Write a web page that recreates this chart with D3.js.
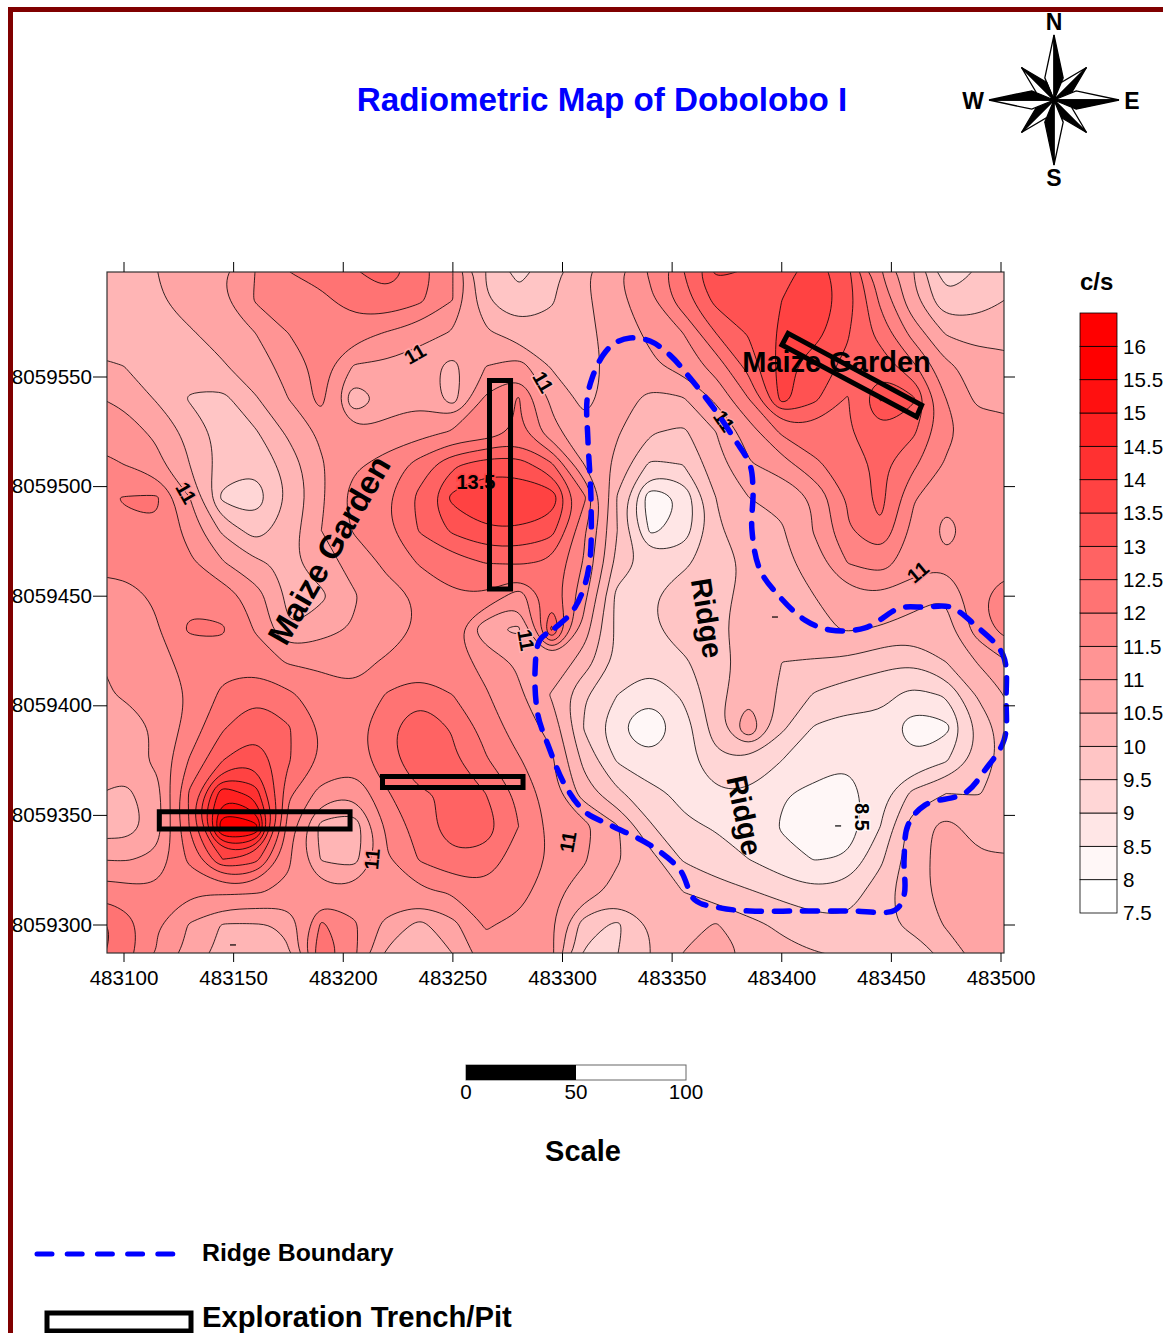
<!DOCTYPE html>
<html>
<head>
<meta charset="utf-8">
<title>Radiometric Map of Dobolobo I</title>
<script src="https://cdn.jsdelivr.net/npm/d3@7"></script>
<style>
	html, body { margin: 0; padding: 0; background: #fff; }
	svg { display: block; }
	text { font-family: "Liberation Sans", Arial, sans-serif; fill: #000; }
	.bold { font-weight: bold; }
</style>
</head>
<body>
<div id="chart"></div>
<script>
// grid of c/s readings, 15 m apart, north to south, west to east
var gridEast0 = 483085, gridNorth0 = 8059600, gridStep = 15;
var counts = [
	[10.1,10.1,10.5,10.7,10.95,11.5,12.05,12.2,12.5,12.8,12.3,11.5,10.0,9.3,9.8,10.45,10.95,11.6,12.5,13.7,13.5,13.2,13.8,13.1,11.5,10.5,9.2,9.5,9.8],
	[10.2,10.2,10.45,10.7,10.95,11.55,11.7,11.9,12.2,12.4,12.1,11.5,10.0,9.6,9.95,10.4,10.85,11.4,12.3,13.15,13.3,13.5,13.8,13.3,11.9,10.6,9.55,9.8,10.05],
	[10.1,10.1,10.2,10.45,10.7,11.0,11.5,11.8,11.75,11.45,11.2,10.95,10.6,10.2,10.15,10.35,10.75,11.1,11.5,12.5,13.05,13.6,13.7,13.05,12.3,11.3,10.45,10.25,10.3],
	[10.7,10.5,10.3,10.2,10.45,10.8,11.15,11.7,10.95,10.9,10.7,10.35,11.0,11.25,10.45,10.3,10.7,10.9,11.2,11.7,12.7,13.7,13.2,12.9,12.8,12.1,11.1,10.8,10.7],
	[11.05,10.9,10.45,9.95,9.85,10.45,11.0,11.7,10.05,10.7,10.9,10.25,11.6,12.05,10.9,10.35,10.75,10.35,10.45,11.1,12.0,13.7,13.1,12.45,13.55,13.1,11.5,10.85,10.85],
	[11.3,11.2,10.9,10.35,9.8,9.95,10.6,11.1,11.05,11.2,11.3,11.55,11.6,12.1,11.15,10.65,10.55,10.05,9.9,10.5,11.25,12.1,12.3,12.45,12.95,12.6,11.6,11.3,11.2],
	[11.75,11.5,11.15,10.5,9.8,9.6,10.2,10.95,11.4,11.7,12.2,12.9,13.3,13.25,12.6,11.0,10.35,9.4,9.5,10.3,10.95,11.25,11.9,12.25,12.6,12.1,11.45,11.2,11.15],
	[11.9,12.02,12.08,11.0,9.35,9.2,10.05,10.9,11.75,11.95,12.65,13.65,13.9,13.9,13.85,12.1,9.95,8.1,8.55,10.0,10.5,10.6,11.05,12.05,12.7,11.55,11.1,11.15,11.15],
	[11.8,11.95,11.95,11.3,10.4,9.75,10.25,11.0,11.55,11.9,12.55,13.1,13.45,13.45,13.2,11.55,10.0,8.4,8.65,9.9,10.4,10.45,11.05,11.95,12.45,11.35,10.85,11.2,11.2],
	[11.75,11.7,11.65,11.6,11.05,10.6,10.4,10.75,11.2,11.6,12.05,12.25,12.5,12.55,12.4,11.45,9.85,9.3,9.4,9.75,10.1,10.35,10.75,11.5,11.75,11.2,11.08,11.15,11.4],
	[11.15,11.25,11.6,11.85,11.8,11.25,10.4,10.4,10.95,11.35,11.55,11.95,11.95,11.2,12.3,11.15,9.3,9.45,9.8,9.95,10.05,10.2,10.5,10.8,10.95,10.7,10.5,11.45,11.8],
	[11.2,11.15,11.45,12.1,12.05,11.45,10.5,10.8,11.05,11.3,11.55,11.65,10.6,10.4,13.1,10.75,9.35,9.4,9.8,9.95,10.1,10.25,10.4,10.55,10.45,10.3,10.35,11.3,11.8],
	[10.95,11.1,11.4,11.6,11.85,11.75,11.45,11.4,11.4,11.55,11.65,11.7,11.35,10.9,10.95,10.25,9.4,9.15,9.4,9.85,10.15,10.0,9.95,9.9,9.65,9.55,10.0,10.55,11.05],
	[10.9,11.05,11.15,11.55,12.1,12.45,12.1,11.75,11.55,12.05,12.4,12.0,11.55,11.1,10.45,9.55,9.0,8.55,9.1,9.8,10.4,9.9,9.45,9.2,9.15,8.85,9.05,10.1,10.6],
	[10.75,10.7,11.05,11.7,12.45,12.85,12.55,11.95,11.8,12.4,12.85,12.45,11.8,11.25,10.85,9.45,8.5,8.15,8.65,9.8,11.0,9.6,8.95,8.85,8.85,8.15,8.35,9.6,10.45],
	[10.85,10.8,11.1,12.05,13.0,13.4,12.55,11.95,11.75,12.3,12.9,12.6,12.05,11.55,11.1,9.85,8.95,8.55,8.75,9.4,9.45,9.0,8.8,8.55,8.8,8.6,8.95,9.7,10.3],
	[10.55,10.35,10.8,12.6,14.9,14.25,12.1,11.3,11.05,11.95,12.45,12.55,12.5,11.9,11.2,10.25,9.6,9.2,8.85,8.95,8.95,8.55,8.35,8.3,8.8,9.65,10.0,9.98,10.2],
	[10.3,10.15,10.75,12.55,15.9,15.7,11.75,10.3,10.15,11.6,12.25,12.8,12.8,12.0,11.35,11.15,10.55,9.55,9.1,8.95,8.9,8.45,8.1,8.2,9.0,10.3,10.65,10.3,10.3],
	[11.0,10.95,11.1,12.15,13.5,13.2,11.6,10.45,10.3,11.45,12.05,12.4,12.3,11.75,11.45,11.05,10.55,10.2,9.45,9.25,9.0,8.65,8.48,8.55,9.4,10.3,10.7,10.55,10.55],
	[11.85,11.7,11.6,11.55,11.6,11.55,11.4,11.2,11.15,11.5,11.4,11.55,11.85,11.75,11.1,10.8,10.3,10.2,10.0,9.7,9.55,9.35,9.1,9.25,9.75,10.4,10.6,10.7,10.7],
	[12.85,12.3,11.55,10.95,10.45,10.45,10.55,12.1,11.6,10.8,10.35,10.85,11.55,11.35,11.05,9.7,9.4,10.0,10.3,10.55,10.15,9.9,9.75,9.6,9.85,10.15,10.55,10.75,10.8],
	[12.7,12.25,11.45,10.8,10.3,10.1,10.45,12.5,11.6,10.35,9.95,10.45,11.3,11.35,11.15,9.4,9.5,10.0,10.55,10.75,10.45,10.2,10.05,10.0,9.85,9.6,10.1,10.7,10.8]
];

var levels = [7.5,8,8.5,9,9.5,10,10.5,11,11.5,12,12.5,13,13.5,14,14.5,15,15.5,16];
var eastTicks = [483100,483150,483200,483250,483300,483350,483400,483450,483500];
var northTicks = [8059300,8059350,8059400,8059450,8059500,8059550];
var scaleTicks = [0,50,100];

// east, north pairs
var ridgeEast = [483289.7,483296.6,483304.3,483309.4,483312.5,483313,483311.6,483311.2,483313.5,483318.5,483323.9,483330.8,483339.9,483349,483358.2,483369.6,483378.7,483385.5,483386.9,483386.4,483390.1,483399.2,483410.6,483422,483438,483453.9,483465.3,483476.7,483488.1,483500.9,483502.3,483501.4,483492.7,483483.6,483465.3,483457.6,483455.8,483455.8,483451.7,483431.1,483408.3,483385.5,483371.8,483360.4,483353.6,483339.9,483321.7,483310.3,483301.1,483293.4,483288.8,483287.5];
var ridgeNorth = [8059430,8059435.5,8059442.8,8059452.8,8059466.5,8059493.9,8059521.3,8059539.5,8059549.5,8059560,8059565.5,8059567.8,8059566.4,8059560,8059549.5,8059534.9,8059521.3,8059509.9,8059498.4,8059480.2,8059462,8059449.6,8059439.1,8059434.6,8059435.5,8059444.6,8059445,8059445.1,8059436.9,8059423.2,8059402.6,8059384.4,8059370.7,8059360.2,8059354.7,8059345.6,8059329.7,8059313.7,8059306.8,8059306.4,8059306.4,8059306.4,8059307.8,8059311.4,8059325.1,8059336.5,8059345.6,8059351.6,8059363.9,8059382.1,8059395.8,8059416.3];

var trenches = [
	[[483266.7,8059548.4],[483276.3,8059548.4],[483276.3,8059453.3],[483266.7,8059453.3]],
	[[483217.9,8059367.7],[483282.0,8059367.7],[483282.0,8059362.7],[483217.9,8059362.7]],
	[[483116.1,8059351.7],[483203.1,8059351.7],[483203.1,8059343.8],[483116.1,8059343.8]],
	[[483402.9,8059569.9],[483463.8,8059537.2],[483461.5,8059531.9],[483400.1,8059564.6]]
];

var contourLabels = [
	['11',483232.7,8059560.5,-30],
	['11',483291.1,8059547.7,60],
	['11',483373.7,8059529.9,55],
	['11',483128.3,8059497.1,60],
	['11',483283.4,8059430.0,80],
	['11',483213.1,8059330.1,-85],
	['11',483302.5,8059337.9,-80],
	['11',483462.1,8059461.0,-40],
	['13.5',483260.5,8059502.1,0],
	['8.5',483436.6,8059349.3,90]
];

var spotEast = [483396.9,483425.7,483149.7];
var spotNorth = [8059440.5,8059345.2,8059290.9];

var placeLabels = [
	['Maize Garden',483193.5,8059471,-60,32.5],
	['Maize Garden',483425,8059557,0,29],
	['Ridge',483366,8059440,81,29],
	['Ridge',483383,8059350,78,29]
];

var width = 1163,
	height = 1333,
	plot = { left: 107, right: 1004, top: 272, bottom: 953 };

var xScale = d3.scaleLinear().domain([483100, 483500]).range([124, 1001]);
var yScale = d3.scaleLinear().domain([8059300, 8059550]).range([925, 377]);

// every band's colour comes from its lower level
var color = d3.scaleLinear().domain([7.75, 15.5]).range(['#ffffff', '#ff0000']).clamp(true);

var svg = d3.select('#chart').append('svg')
	.attr('width', width)
	.attr('height', height);

// page frame
svg.append('rect').attr('x', 8).attr('y', 7).attr('width', width - 8).attr('height', 5).attr('fill', '#800000');
svg.append('rect').attr('x', 8).attr('y', 7).attr('width', 5).attr('height', height - 7).attr('fill', '#800000');

svg.append('text')
	.attr('class', 'bold')
	.attr('x', 602)
	.attr('y', 111)
	.attr('text-anchor', 'middle')
	.attr('font-size', 33.2)
	.style('fill', '#0000ff')
	.text('Radiometric Map of Dobolobo I');

// contours
var nCols = counts[0].length, nRows = counts.length;
var gridX = d3.scaleLinear()
	.domain([0.5, nCols - 0.5])
	.range([xScale(gridEast0), xScale(gridEast0 + gridStep * (nCols - 1))]);
var gridY = d3.scaleLinear()
	.domain([0.5, nRows - 0.5])
	.range([yScale(gridNorth0), yScale(gridNorth0 - gridStep * (nRows - 1))]);

var bands = d3.contours()
	.size([nCols, nRows])
	.thresholds(levels)(d3.merge(counts));

var ringLine = d3.line()
	.x(function(d) { return gridX(d[0]); })
	.y(function(d) { return gridY(d[1]); })
	.curve(d3.curveBasisClosed);

var bandPath = function(band) {
	var out = '';
	band.coordinates.forEach(function(polygon) {
		polygon.forEach(function(ring) {
			out += ringLine(ring.slice(0, -1));
		});
	});
	return out;
};

svg.append('clipPath').attr('id', 'plot-clip')
	.append('rect')
	.attr('x', plot.left)
	.attr('y', plot.top)
	.attr('width', plot.right - plot.left)
	.attr('height', plot.bottom - plot.top);

var mapLayer = svg.append('g').attr('clip-path', 'url(#plot-clip)');

mapLayer.append('rect')
	.attr('x', plot.left)
	.attr('y', plot.top)
	.attr('width', plot.right - plot.left)
	.attr('height', plot.bottom - plot.top)
	.attr('fill', '#fff');

mapLayer.selectAll('path.band')
	.data(bands)
	.enter().append('path')
	.attr('class', 'band')
	.attr('d', bandPath)
	.attr('fill', function(d) { return color(d.value); })
	.attr('fill-rule', 'evenodd')
	.attr('stroke', '#000')
	.attr('stroke-width', 0.8);

// small spot marks left by the gridding
mapLayer.selectAll('line.spot')
	.data(d3.zip(spotEast, spotNorth))
	.enter().append('line')
	.attr('class', 'spot')
	.attr('x1', function(d) { return xScale(d[0]) - 3; })
	.attr('x2', function(d) { return xScale(d[0]) + 3; })
	.attr('y1', function(d) { return yScale(d[1]); })
	.attr('y2', function(d) { return yScale(d[1]); })
	.attr('stroke', '#000')
	.attr('stroke-width', 1.2);

// contour labels sit in a gap of the line
var bandAt = function(east, north) {
	var col = Math.round((east - gridEast0) / gridStep);
	var row = Math.round((gridNorth0 - north) / gridStep);
	return Math.floor(counts[row][col] * 2) / 2;
};

mapLayer.selectAll('text.contour-label')
	.data(contourLabels)
	.enter().append('text')
	.attr('class', 'contour-label bold')
	.attr('transform', function(d) { return 'translate(' + xScale(d[1]) + ',' + yScale(d[2]) + ') rotate(' + d[3] + ')'; })
	.attr('text-anchor', 'middle')
	.attr('dy', '0.35em')
	.attr('font-size', 20)
	.style('paint-order', 'stroke')
	.attr('stroke', function(d) { return color(bandAt(d[1], d[2])); })
	.attr('stroke-width', 3)
	.text(function(d) { return d[0]; });

// ridge boundary
var ridgePoints = d3.zip(ridgeEast, ridgeNorth);
svg.append('path')
	.attr('d', d3.line()
		.x(function(d) { return xScale(d[0]); })
		.y(function(d) { return yScale(d[1]); })
		.curve(d3.curveCatmullRomClosed)(ridgePoints))
	.attr('fill', 'none')
	.attr('stroke', '#0000ff')
	.attr('stroke-width', 5.5)
	.attr('stroke-linecap', 'round')
	.attr('stroke-dasharray', '15 13');

// trenches
svg.selectAll('path.trench')
	.data(trenches)
	.enter().append('path')
	.attr('class', 'trench')
	.attr('d', function(d) {
		return d3.line()
			.x(function(p) { return xScale(p[0]); })
			.y(function(p) { return yScale(p[1]); })(d) + 'Z';
	})
	.attr('fill', 'none')
	.attr('stroke', '#000')
	.attr('stroke-width', 5);

svg.selectAll('text.place')
	.data(placeLabels)
	.enter().append('text')
	.attr('class', 'place bold')
	.attr('transform', function(d) { return 'translate(' + xScale(d[1]) + ',' + yScale(d[2]) + ') rotate(' + d[3] + ')'; })
	.attr('text-anchor', 'middle')
	.attr('dy', '0.35em')
	.attr('font-size', function(d) { return d[4]; })
	.text(function(d) { return d[0]; });

// frame and axes
svg.append('rect')
	.attr('x', plot.left)
	.attr('y', plot.top)
	.attr('width', plot.right - plot.left)
	.attr('height', plot.bottom - plot.top)
	.attr('fill', 'none')
	.attr('stroke', '#333')
	.attr('stroke-width', 1.2);

var bottomAxis = d3.axisBottom(xScale).tickValues(eastTicks).tickFormat(d3.format('d')).tickSize(9).tickPadding(8).offset(0);
var topAxis = d3.axisTop(xScale).tickValues(eastTicks).tickFormat('').tickSize(10).offset(0);
var leftAxis = d3.axisLeft(yScale).tickValues(northTicks).tickFormat(d3.format('d')).tickSize(14).tickPadding(1).offset(0);
var rightAxis = d3.axisRight(yScale).tickValues(northTicks).tickFormat('').tickSize(11).offset(0);

var axisGroup = function(axis, x, y) {
	var g = svg.append('g').attr('transform', 'translate(' + x + ',' + y + ')').call(axis);
	g.select('.domain').remove();
	g.selectAll('text').attr('font-size', 20.6).style('font-family', '"Liberation Sans", Arial, sans-serif');
	return g;
};
axisGroup(bottomAxis, 0, plot.bottom);
axisGroup(topAxis, 0, plot.top);
axisGroup(leftAxis, plot.left, 0);
axisGroup(rightAxis, plot.right, 0);

// c/s colour bar
var barY = d3.scaleLinear().domain([7.5, 16.5]).range([913, 313]);
svg.append('text').attr('class', 'bold').attr('x', 1080).attr('y', 290).attr('font-size', 24).text('c/s');

svg.selectAll('rect.key')
	.data(levels)
	.enter().append('rect')
	.attr('class', 'key')
	.attr('x', 1080)
	.attr('width', 37)
	.attr('y', function(d) { return barY(d + 0.5); })
	.attr('height', function(d) { return barY(d) - barY(d + 0.5); })
	.attr('fill', function(d) { return color(d); })
	.attr('stroke', '#000')
	.attr('stroke-width', 0.8);

svg.selectAll('text.key-label')
	.data(levels)
	.enter().append('text')
	.attr('class', 'key-label')
	.attr('x', 1123)
	.attr('y', function(d) { return barY(d); })
	.attr('dy', '0.35em')
	.attr('font-size', 20.6)
	.text(function(d) { return d; });

// map scale
var barX = d3.scaleLinear().domain([0, 100]).range([466, 686]);
svg.append('rect').attr('x', barX(0)).attr('y', 1065).attr('width', barX(100) - barX(0)).attr('height', 15)
	.attr('fill', '#fff').attr('stroke', '#666').attr('stroke-width', 1);
svg.append('rect').attr('x', barX(0)).attr('y', 1065).attr('width', barX(50) - barX(0)).attr('height', 15).attr('fill', '#000');
svg.selectAll('text.scale-label')
	.data(scaleTicks)
	.enter().append('text')
	.attr('class', 'scale-label')
	.attr('x', function(d) { return barX(d); })
	.attr('y', 1099)
	.attr('text-anchor', 'middle')
	.attr('font-size', 20.6)
	.text(function(d) { return d; });
svg.append('text').attr('class', 'bold').attr('x', 583).attr('y', 1161).attr('text-anchor', 'middle').attr('font-size', 29).text('Scale');

// legend
svg.append('line').attr('x1', 37).attr('x2', 173).attr('y1', 1254).attr('y2', 1254)
	.attr('stroke', '#0000ff').attr('stroke-width', 5).attr('stroke-linecap', 'round').attr('stroke-dasharray', '15 15.2');
svg.append('text').attr('class', 'bold').attr('x', 202).attr('y', 1261).attr('font-size', 24.8).text('Ridge Boundary');
svg.append('rect').attr('x', 47).attr('y', 1313).attr('width', 144).attr('height', 18)
	.attr('fill', '#fff').attr('stroke', '#000').attr('stroke-width', 5);
svg.append('text').attr('class', 'bold').attr('x', 202).attr('y', 1327).attr('font-size', 29.2).text('Exploration Trench/Pit');

// north arrow
var compass = svg.append('g').attr('transform', 'translate(1054,100)');
var polar = function(r, deg) {
	var a = (deg - 90) * Math.PI / 180;
	return [r * Math.cos(a), r * Math.sin(a)];
};
d3.range(0, 360, 45).forEach(function(deg) {
	var main = deg % 90 === 0;
	var tip = polar(main ? 65 : 46, deg);
	var inner = main ? 24 : 19;
	var spread = 22.5;
	var left = [[0, 0], tip, polar(inner, deg - spread)];
	var right = [[0, 0], tip, polar(inner, deg + spread)];
	compass.append('path').attr('d', d3.line()(left) + 'Z').attr('fill', '#fff').attr('stroke', '#000').attr('stroke-width', 1.3);
	compass.append('path').attr('d', d3.line()(right) + 'Z').attr('fill', '#000').attr('stroke', '#000').attr('stroke-width', 1.3);
});
[['N', 1054, 30], ['S', 1054, 186], ['W', 973, 109], ['E', 1132, 109]].forEach(function(d) {
	svg.append('text').attr('class', 'bold').attr('x', d[1]).attr('y', d[2]).attr('text-anchor', 'middle').attr('font-size', 23).text(d[0]);
});
</script>
</body>
</html>
